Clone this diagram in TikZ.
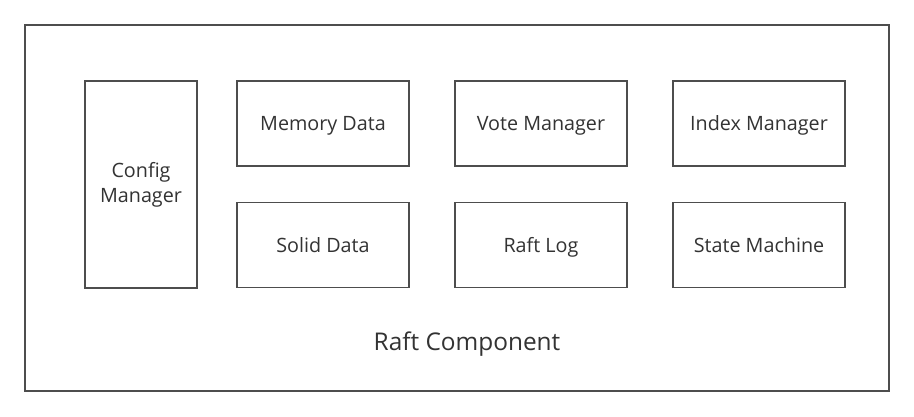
\documentclass[tikz,border=0pt]{standalone}
\usepackage{fontspec}
\setmainfont{Open Sans}
\definecolor{linec}{HTML}{4D4D4D}
\definecolor{textc}{HTML}{333333}
\begin{document}
\begin{tikzpicture}[x=0.75pt,y=-0.75pt,
  box/.style={draw=linec, line width=1.1pt, fill=white, text=textc, font=\fontsize{14.8}{18.75}\selectfont, align=center, inner sep=0pt},
  wide/.style={box, minimum width=129pt, minimum height=63.75pt, text height=1.07em, text depth=0em}]
\useasboundingbox[fill=white] (0,0) rectangle (914,417);
\node[box, minimum width=648pt, minimum height=274.5pt] (outer) at (457,208) {};
\node[text=textc, font=\fontsize{18.3}{22}\selectfont, inner sep=0pt, text height=1.15em, text depth=0em] (title) at (467,343) {Raft Component};
\node[box, minimum width=84pt, minimum height=155.25pt] (config) at (141,184.5) {\raisebox{-1.5pt}{Config}\\\raisebox{-1.5pt}{Manager}};
\node[wide] (mem) at (323,123.5) {Memory Data};
\node[wide] (vote) at (541,123.5) {Vote Manager};
\node[wide] (index) at (759,123.5) {Index Manager};
\node[wide] (solid) at (323,245) {Solid Data};
\node[wide] (log) at (541,245) {Raft Log};
\node[wide] (sm) at (759,245) {State Machine};
\end{tikzpicture}
\end{document}
